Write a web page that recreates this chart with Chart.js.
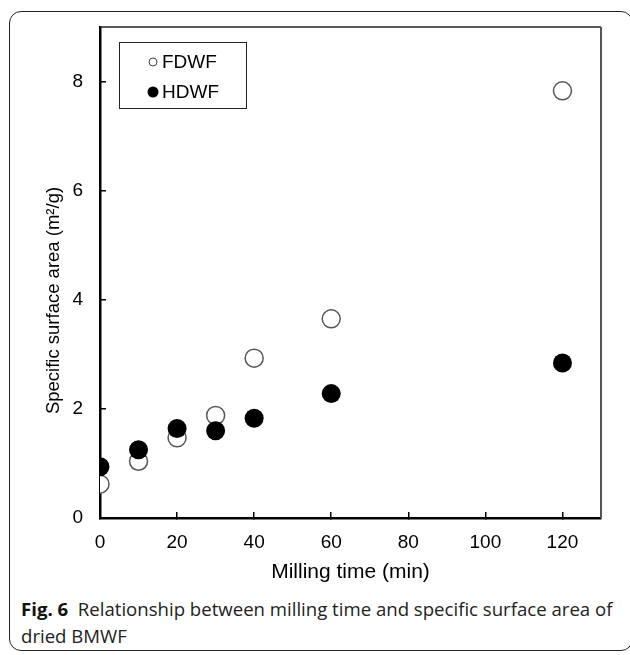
<!DOCTYPE html>
<html lang="en">

<head>
    <meta charset="UTF-8">
    <script src="https://cdn.jsdelivr.net/npm/chart.js"></script>
    <title>Fig. 6</title>
    <style>
        body { margin: 0; background: #fff; width: 630px; height: 655px; overflow: hidden; position: relative; }
        .panel { position: absolute; left: 9px; top: 11px; width: 624px; height: 640px; border: 1.5px solid #222; border-radius: 12px; box-sizing: border-box; }
        .box-chart { position: absolute; left: 0; top: 0; width: 630px; height: 590px; }
        .legend { position: absolute; left: 119px; top: 42px; width: 128px; height: 67px; border: 1.5px solid #222; box-sizing: border-box; font: 19px "Liberation Sans", Arial, sans-serif; }
        .legend .item { position: absolute; left: 0; width: 100%; height: 22px; line-height: 22px; white-space: nowrap; }
        .legend .dot { position: absolute; top: 50%; box-sizing: border-box; border-radius: 50%; transform: translate(-50%, -50%); }
        .legend .txt { position: absolute; left: 42px; top: 0; }
        .caption { position: absolute; left: 21px; top: 595px; font: 18.6px "Open Sans", sans-serif; line-height: 27px; color: #222; white-space: nowrap; }
        .caption b { font-weight: 700; color: #111; }
    </style>
</head>

<body>

    <div class="panel"></div>

    <div class="box-chart">
        <canvas id="chartSurface" width="630" height="590"></canvas>
    </div>

    <div class="legend" id="legend"></div>

    <div class="caption"><b>Fig. 6</b>&nbsp; Relationship between milling time and specific surface area of<br>dried BMWF</div>

</body>

</html>

<script>

    // Dados ----------------------------------------------------------------------
    const millingTime = [0, 10, 20, 30, 40, 60, 120]
    const fdwf = [0.62, 1.04, 1.47, 1.88, 2.93, 3.65, 7.83]
    const hdwf = [0.94, 1.25, 1.64, 1.60, 1.83, 2.28, 2.84]
    const seriesNames = ['FDWF', 'HDWF']
    const xTicks = [0, 20, 40, 60, 80, 100, 120]
    const yTicks = [0, 2, 4, 6, 8]

    function toPoints(values) {
        var pts = []
        for (var i = 0; i < millingTime.length; i++) {
            pts.push({ x: millingTime[i], y: values[i] })
        }
        return pts
    }

    // Título do eixo y (um pouco abaixo do centro, como no original)
    const yTitle = {
        id: 'yTitle',
        afterDraw(chart) {
            const ctx = chart.ctx
            const area = chart.chartArea
            ctx.save()
            ctx.translate(54, (area.top + area.bottom) / 2 + 28)
            ctx.rotate(-Math.PI / 2)
            ctx.font = '18.5px "Liberation Sans", Arial, sans-serif'
            ctx.fillStyle = '#000'
            ctx.textAlign = 'center'
            ctx.textBaseline = 'middle'
            ctx.fillText('Specific surface area (m²/g)', 0, 0)
            ctx.restore()
        }
    }

    // Borda superior e direita da área do gráfico
    const frame = {
        id: 'frame',
        beforeDatasetsDraw(chart) {
            const ctx = chart.ctx
            const a = chart.chartArea
            ctx.save()
            ctx.lineWidth = 1.5
            ctx.strokeStyle = '#222'
            ctx.beginPath()
            ctx.moveTo(a.left, a.top)
            ctx.lineTo(a.right, a.top)
            ctx.stroke()
            ctx.lineWidth = 2
            ctx.strokeStyle = '#555'
            ctx.beginPath()
            ctx.moveTo(a.right, a.top)
            ctx.lineTo(a.right, a.bottom)
            ctx.stroke()
            ctx.restore()
        }
    }

    const tickFont = { family: '"Liberation Sans", Arial, sans-serif', size: 19 }

    const configSurface = {
        type: 'scatter',
        data: {
            datasets: [{
                label: seriesNames[0],
                data: toPoints(fdwf),
                pointRadius: 9,
                pointHoverRadius: 9,
                pointBorderWidth: 1.5,
                borderColor: '#555',
                backgroundColor: '#fff',
                order: 1
            }, {
                label: seriesNames[1],
                data: toPoints(hdwf),
                pointRadius: 9.5,
                pointHoverRadius: 9.5,
                pointBorderWidth: 0,
                borderColor: '#000',
                backgroundColor: '#000',
                order: 0
            }]
        },
        options: {
            responsive: false,
            animation: false,
            layout: { padding: { left: 0, top: 27, right: 29, bottom: 0 } },
            plugins: {
                legend: { display: false },
                tooltip: { enabled: false }
            },
            scales: {
                x: {
                    type: 'linear',
                    min: 0,
                    max: 130,
                    afterBuildTicks(scale) {
                        scale.ticks = xTicks.map(v => ({ value: v }))
                    },
                    afterFit(scale) {
                        scale.height = 72
                        scale.paddingLeft = 0
                        scale.paddingRight = 0
                    },
                    ticks: { font: tickFont, color: '#000', padding: 19, maxRotation: 0 },
                    grid: { drawOnChartArea: false, tickLength: -6, color: '#000', lineWidth: 1.5 },
                    border: { color: '#000', width: 2.5 },
                    title: {
                        display: true,
                        text: 'Milling time (min)',
                        color: '#000',
                        font: { family: '"Liberation Sans", Arial, sans-serif', size: 21 },
                        padding: { top: 0, bottom: 5 }
                    }
                },
                y: {
                    type: 'linear',
                    min: 0,
                    max: 9,
                    afterBuildTicks(scale) {
                        scale.ticks = yTicks.map(v => ({ value: v }))
                    },
                    afterFit(scale) {
                        scale.width = 100
                        scale.paddingTop = 0
                        scale.paddingBottom = 0
                    },
                    ticks: { font: tickFont, color: '#000', padding: 23 },
                    grid: { drawOnChartArea: false, tickLength: -6, color: '#000', lineWidth: 1.5 },
                    border: { color: '#000', width: 2.5 }
                }
            }
        },
        plugins: [frame, yTitle]
    }

    const chartSurface = new Chart(document.getElementById('chartSurface'), configSurface)

    // Legenda em HTML, dentro da área do gráfico
    var legendHtml = ''
    var dotStyles = [
        'width:9px;height:9px;border:1.2px solid #444;background:#fff;',
        'width:11px;height:11px;background:#000;'
    ]
    for (var i = 0; i < seriesNames.length; i++) {
        var itemTop = 8 + i * 30
        legendHtml += '<div class="item" style="top:' + itemTop + 'px">' +
            '<span class="dot" style="left:33px;' + dotStyles[i] + '"></span>' +
            '<span class="txt">' + seriesNames[i] + '</span></div>'
    }
    document.getElementById('legend').innerHTML = legendHtml

</script>
